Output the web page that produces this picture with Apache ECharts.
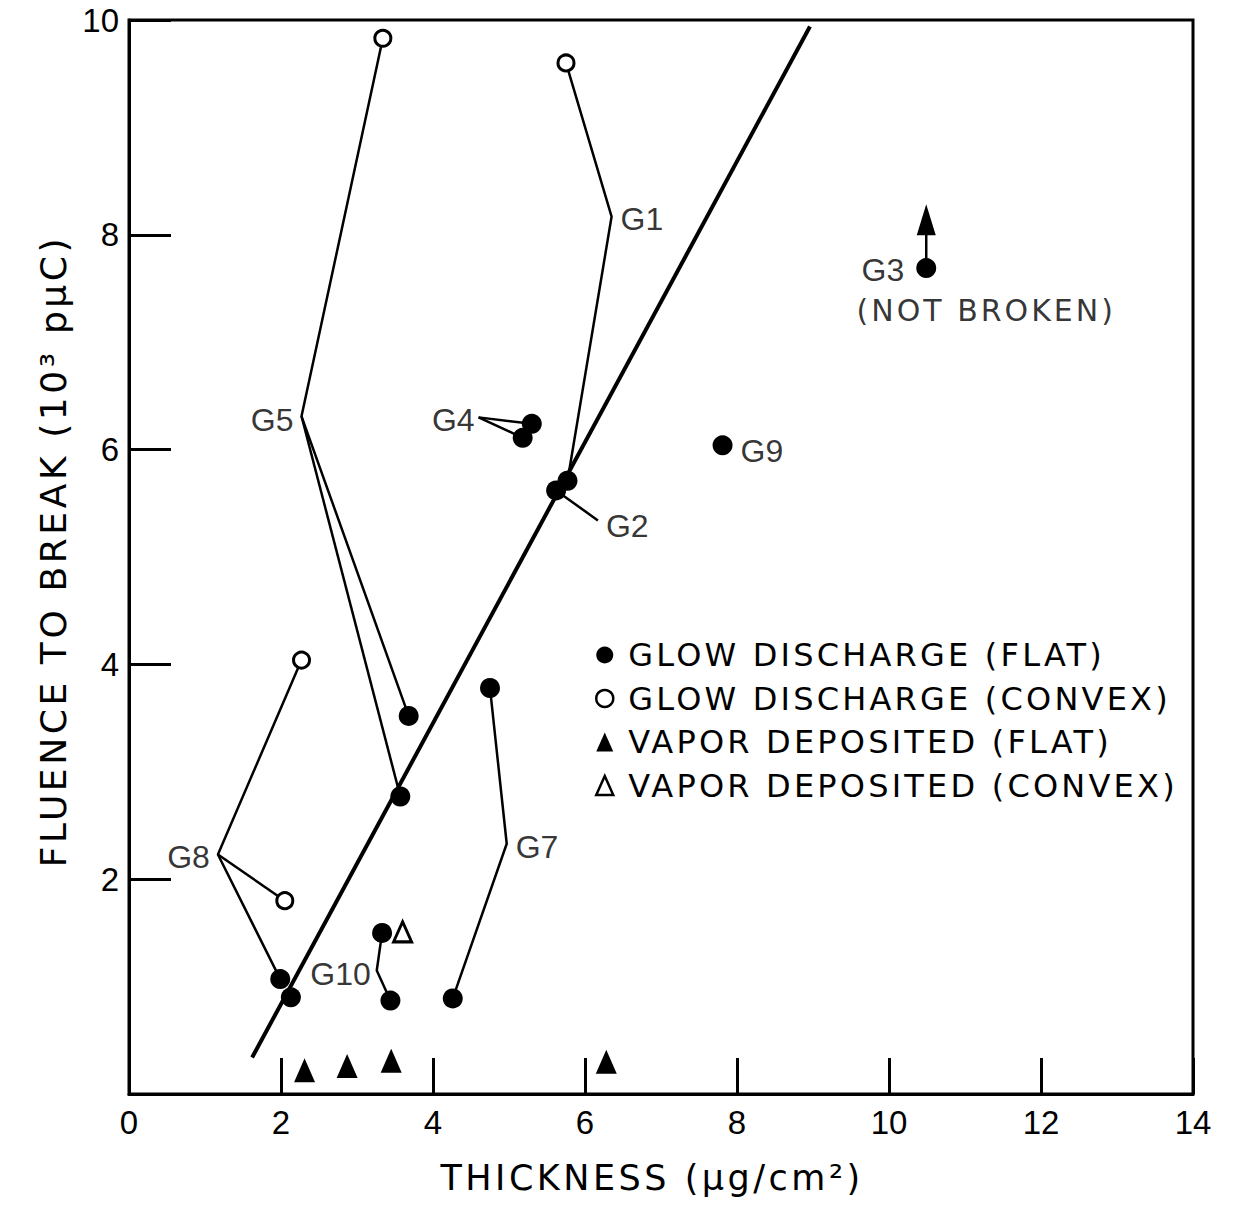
<!DOCTYPE html>
<html>
<head>
<meta charset="utf-8">
<script src="https://cdn.jsdelivr.net/npm/echarts@6/dist/echarts.min.js"></script>
<style>
  html, body { margin: 0; padding: 0; background: #fff; }
  #chart { width: 1235px; height: 1205px; }
  /* wide lettering for titles, legend and notes */
  #chart text[style*="DejaVu"] { letter-spacing: 0.1em; }
</style>
</head>
<body>
<div id="chart"></div>
<script>
// Axis ticks
const xTickValues = [0, 2, 4, 6, 8, 10, 12, 14];
const yTickValues = [2, 4, 6, 8, 10];

// Foils: [thickness (ug/cm2), fluence to break (10^3 pC)]
const glowFlat = [
  [3.68, 3.52], [3.57, 2.77], [5.77, 5.71], [5.62, 5.62], [5.30, 6.24], [5.18, 6.11],
  [7.81, 6.04], [10.49, 7.69], [4.75, 3.78], [4.26, 0.89], [1.99, 1.07], [2.13, 0.90],
  [3.33, 1.50], [3.44, 0.87]
];
const glowConvex = [[3.34, 9.83], [5.75, 9.60], [2.27, 4.04], [2.05, 1.80]];
const vaporFlat = [[2.31, 0.22], [2.87, 0.26], [3.45, 0.31], [6.28, 0.30]];
const vaporConvex = [[3.60, 1.51]];

// Lines that tie each foil group to its label
const groupPaths = [
  [[3.34, 9.83], [2.27, 6.31], [3.68, 3.52]],
  [[2.27, 6.31], [3.57, 2.77]],
  [[5.75, 9.60], [6.35, 8.17], [5.77, 5.71]],
  [[5.62, 5.62], [6.17, 5.34]],
  [[4.60, 6.30], [5.30, 6.24]],
  [[4.60, 6.30], [5.18, 6.11]],
  [[4.75, 3.78], [4.97, 2.33], [4.26, 0.89]],
  [[2.27, 4.04], [1.17, 2.23], [1.99, 1.07]],
  [[1.17, 2.23], [2.05, 1.80]],
  [[3.33, 1.50], [3.26, 1.15], [3.44, 0.87]]
];

// Linear fit through the glow discharge foils
const fitLine = [[1.62, 0.34], [8.96, 9.94]];
// G3 did not break: arrow upward from its point
const g3Arrow = [[10.49, 7.69], [10.49, 8.14]];

// Group labels and the points they hang from
const groupNames = ['G1', 'G2', 'G3', 'G4', 'G5', 'G7', 'G8', 'G9', 'G10'];
const groupAnchors = [
  [6.35, 8.17], [6.17, 5.34], [10.49, 7.69], [4.60, 6.30], [2.27, 6.31],
  [4.97, 2.33], [1.17, 2.23], [7.81, 6.04], [3.26, 1.15]
];

const legendNames = [
  'GLOW DISCHARGE (FLAT)',
  'GLOW DISCHARGE (CONVEX)',
  'VAPOR DEPOSITED (FLAT)',
  'VAPOR DEPOSITED (CONVEX)'
];

// label placement for each group name
const labelPlacement = {
  G1: ['right', 9, [0, 2]],
  G2: ['right', 8, [0, 6]],
  G3: ['left', 22, [0, 2]],
  G4: ['left', 4, [0, 3]],
  G5: ['left', 8, [0, 4]],
  G7: ['right', 9, [0, 3]],
  G8: ['left', 8, [0, 3]],
  G9: ['right', 18, [0, 6]],
  G10: ['left', 6, [0, 4]]
};

const LABEL_FONT = 'Liberation Sans';
const TITLE_FONT = 'DejaVu Sans';
const INK = '#000';

const chart = echarts.init(document.getElementById('chart'), null, { renderer: 'svg' });

const lineSeries = groupPaths.map(path => ({
  type: 'line',
  data: path,
  symbol: 'none',
  silent: true,
  z: 2,
  lineStyle: { color: INK, width: 2.5 }
}));

const option = {
  animation: false,
  backgroundColor: '#fff',
  grid: {
    left: 129, right: 42, top: 20, bottom: 111,
    show: true, borderColor: INK, borderWidth: 3, backgroundColor: 'transparent'
  },
  xAxis: {
    type: 'value', min: 0, max: 14,
    name: 'THICKNESS (\u03bcg/cm\u00b2)',
    nameLocation: 'middle', nameGap: 66,
    nameTextStyle: { fontFamily: TITLE_FONT, fontSize: 35, color: INK, padding: [0, 18, 0, 0] },
    axisLine: { lineStyle: { color: INK, width: 3 } },
    axisTick: { inside: true, length: 36, customValues: xTickValues, lineStyle: { color: INK, width: 3 } },
    axisLabel: { customValues: xTickValues, margin: 12, fontFamily: LABEL_FONT, fontSize: 33, color: INK },
    splitLine: { show: false }
  },
  yAxis: {
    type: 'value', min: 0, max: 10,
    name: 'FLUENCE TO BREAK (10\u00b3 p\u03bcC)',
    nameLocation: 'middle', nameGap: 58,
    nameTextStyle: { fontFamily: TITLE_FONT, fontSize: 36, color: INK, padding: [0, 0, 0, 12] },
    axisLine: { lineStyle: { color: INK, width: 3 } },
    axisTick: { inside: true, length: 42, customValues: yTickValues, lineStyle: { color: INK, width: 3 } },
    axisLabel: { customValues: yTickValues, margin: 10, fontFamily: LABEL_FONT, fontSize: 33, color: INK },
    splitLine: { show: false }
  },
  legend: {
    orient: 'vertical',
    left: 595, top: 638, padding: 0,
    itemWidth: 17, itemHeight: 19, itemGap: 9.5,
    selectedMode: false,
    textStyle: { fontFamily: TITLE_FONT, fontSize: 32, lineHeight: 34, color: INK, padding: [0, 0, 0, 10] },
    data: [
      { name: legendNames[0], icon: 'circle', itemStyle: { color: INK, borderWidth: 0 } },
      { name: legendNames[1], icon: 'circle', itemStyle: { color: '#fff', borderColor: INK, borderWidth: 2.5 } },
      { name: legendNames[2], icon: 'triangle', itemStyle: { color: INK, borderWidth: 0 } },
      { name: legendNames[3], icon: 'triangle', itemStyle: { color: '#fff', borderColor: INK, borderWidth: 2.5 } }
    ]
  },
  series: [
    ...lineSeries,
    {
      type: 'line', data: fitLine, symbol: 'none', silent: true, z: 2,
      lineStyle: { color: INK, width: 4 }
    },
    {
      type: 'line', data: g3Arrow, silent: true, z: 2,
      symbol: (value, params) => params.dataIndex === 1 ? 'triangle' : 'none',
      symbolSize: [19, 31],
      itemStyle: { color: INK },
      lineStyle: { color: INK, width: 2.5 }
    },
    {
      name: legendNames[0], type: 'scatter', data: glowFlat, z: 4,
      symbol: 'circle', symbolSize: 20,
      itemStyle: { color: INK, opacity: 1 }
    },
    {
      name: legendNames[1], type: 'scatter', data: glowConvex, z: 4,
      symbol: 'circle', symbolSize: 16,
      itemStyle: { color: '#fff', borderColor: INK, borderWidth: 3, opacity: 1 }
    },
    {
      name: legendNames[2], type: 'scatter', data: vaporFlat, z: 4,
      symbol: 'triangle', symbolSize: [21, 24],
      itemStyle: { color: INK, opacity: 1 }
    },
    {
      name: legendNames[3], type: 'scatter', data: vaporConvex, z: 4,
      symbol: 'triangle', symbolSize: [18, 20],
      itemStyle: { color: '#fff', borderColor: INK, borderWidth: 3, opacity: 1 }
    },
    {
      // group names
      type: 'scatter', silent: true, z: 5,
      symbolSize: 0,
      data: groupNames.map((name, i) => {
        const p = labelPlacement[name];
        return {
          name: name, value: groupAnchors[i],
          label: { position: p[0], distance: p[1], offset: p[2] }
        };
      }),
      label: { show: true, formatter: '{b}', fontFamily: LABEL_FONT, fontSize: 32, color: INK }
    },
    {
      // note under G3
      type: 'scatter', silent: true, z: 5,
      symbolSize: 0,
      data: [{ name: '(NOT BROKEN)', value: groupAnchors[2] }],
      label: {
        show: true, position: 'inside', offset: [60, 42], formatter: '{b}',
        fontFamily: TITLE_FONT, fontSize: 30, color: INK
      }
    }
  ]
};

chart.setOption(option);
</script>
</body>
</html>
